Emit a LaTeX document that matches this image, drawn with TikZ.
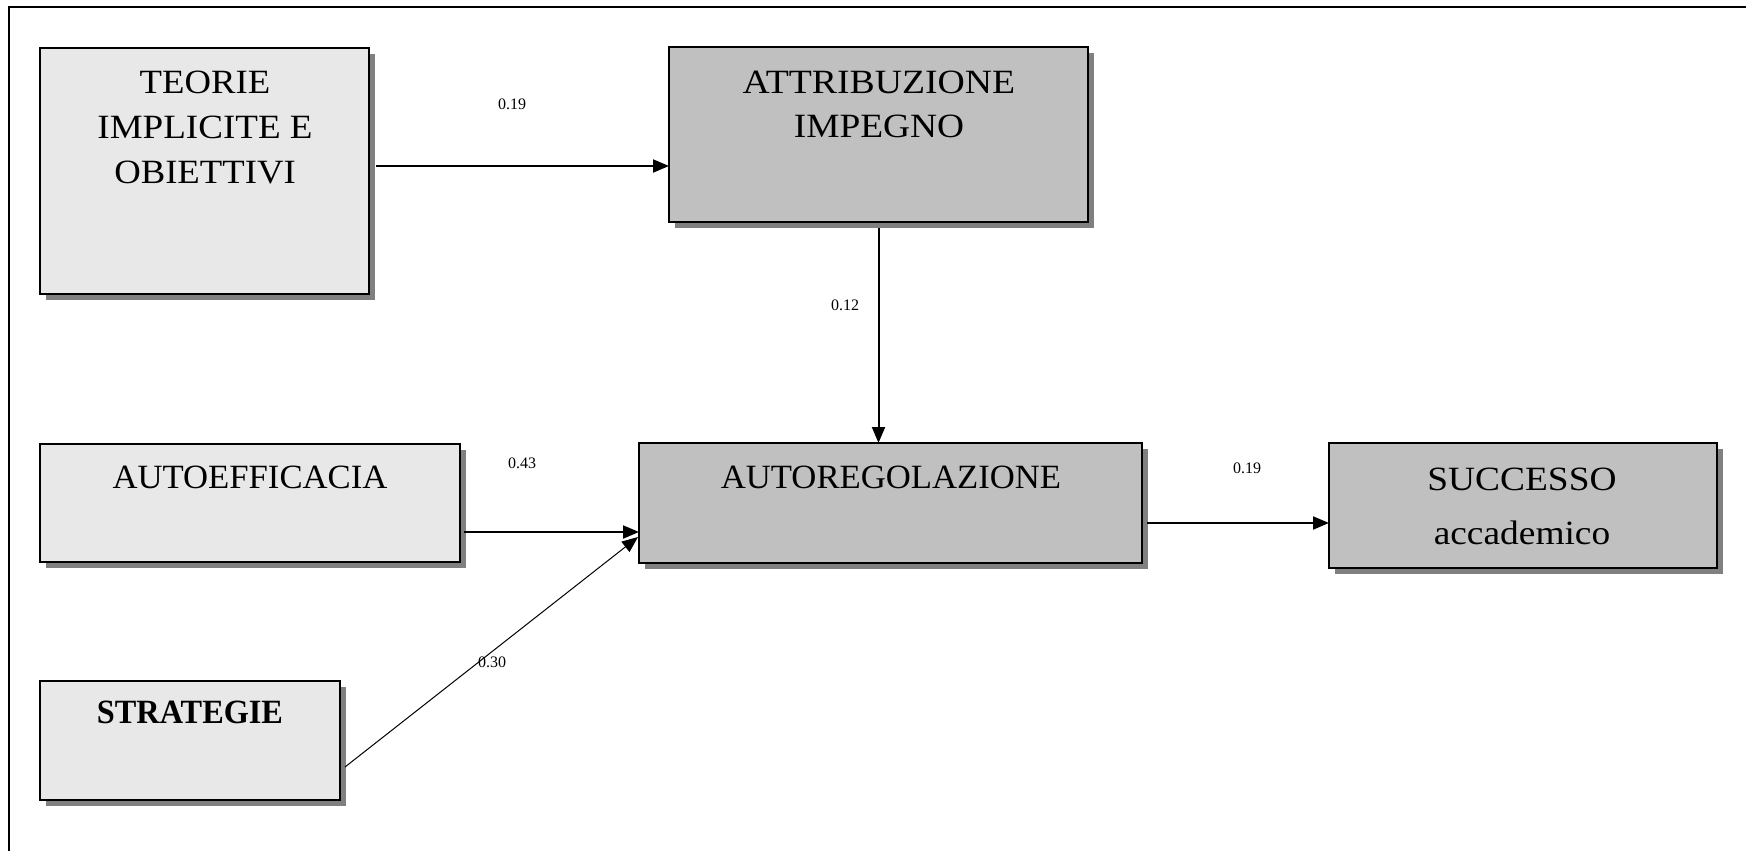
\documentclass[tikz,border=0pt]{standalone}
\usepackage{fontspec}
\setmainfont{Liberation Serif}
\usetikzlibrary{shadows,calc,arrows.meta}
\definecolor{lightfill}{HTML}{E8E8E8}
\definecolor{darkfill}{HTML}{C0C0C0}
\newcommand\hstretch[2]{\scalebox{#1}[1]{#2}}
\tikzset{
  boxbase/.style={draw=black, line width=1.3pt, inner sep=0pt, outer sep=0pt,
    drop shadow={shadow xshift=3pt, shadow yshift=-3pt, fill=black!50, opacity=1}},
  lightbox/.style={boxbase, fill=lightfill},
  darkbox/.style={boxbase, fill=darkfill},
  boxtext/.style={anchor=base, inner sep=0pt, font=\fontsize{17}{22}\selectfont},
  coef/.style={inner sep=0pt, font=\fontsize{8}{9}\selectfont},
  arr/.style={line width=1pt, -{Triangle[length=8pt,width=6.5pt]}},
  thinarr/.style={line width=0.5pt, -{Triangle[length=8pt,width=6.5pt]}},
  frameline/.style={line width=1pt}
}
\begin{document}
\begin{tikzpicture}[x=0.5pt,y=-0.5pt]
\useasboundingbox (0,0) rectangle (1746,851);
% frame (left and top edges only)
\coordinate (fb) at (9,851);
\coordinate (fc) at (9,7);
\coordinate (fr) at (1746,7);
\draw[frameline] (fb) -- (fc) -- (fr);

% boxes
\node[lightbox, minimum width=164.5pt, minimum height=123pt] (teorie) at (204.5,171) {};
\node[darkbox, minimum width=209.5pt, minimum height=87.5pt] (attr) at (878.5,134.5) {};
\node[lightbox, minimum width=210pt, minimum height=59pt] (autoeff) at (250,503) {};
\node[lightbox, minimum width=150pt, minimum height=59.5pt] (strat) at (190,740.5) {};
\node[darkbox, minimum width=251.5pt, minimum height=60pt] (autoreg) at (890.5,503) {};
\node[darkbox, minimum width=194pt, minimum height=62.5pt] (succ) at (1523,505.5) {};

% texts
\node[boxtext] (t1) at (205,93) {\hstretch{1.08}{TEORIE}};
\node[boxtext] (t2) at (205,138) {\hstretch{1.09}{IMPLICITE E}};
\node[boxtext] (t3) at (205,183) {\hstretch{1.08}{OBIETTIVI}};
\node[boxtext] (a1) at (879,93) {\hstretch{1.11}{ATTRIBUZIONE}};
\node[boxtext] (a2) at (879,137) {\hstretch{1.1}{IMPEGNO}};
\node[boxtext] (e1) at (250,488) {\hstretch{1.02}{AUTOEFFICACIA}};
\node[boxtext] (r1) at (891,488) {\hstretch{1.02}{AUTOREGOLAZIONE}};
\node[boxtext] (s1) at (1522,490) {\hstretch{1.1}{SUCCESSO}};
\node[boxtext] (s2) at (1522,544) {\hstretch{1.1}{accademico}};
\node[boxtext, font=\fontsize{17}{22}\selectfont\bfseries] (g1) at (190,723) {\hstretch{0.95}{STRATEGIE}};

% connectors
\draw[arr] ($(teorie.north east)+(7,118)$) coordinate (c1) -- (c1 -| attr.west);
\draw[arr] ($(attr.south)+(0,6)$) -- (attr.south |- autoreg.north);
\draw[arr] ($(autoeff.east)+(4,29)$) coordinate (c3) -- (c3 -| autoreg.west);
\draw[thinarr] ($(strat.east)+(5,26.5)$) -- ($(autoreg.west)+(-1,34)$);
\draw[arr] ($(autoreg.east)+(5,20)$) coordinate (c5) -- (c5 -| succ.west);

% coefficients
\node[coef] (k1) at (512,104) {0.19};
\node[coef] (k2) at (845,305) {0.12};
\node[coef] (k3) at (522,463) {0.43};
\node[coef] (k4) at (492,662) {0.30};
\node[coef] (k5) at (1247,468) {0.19};
\end{tikzpicture}
\end{document}
